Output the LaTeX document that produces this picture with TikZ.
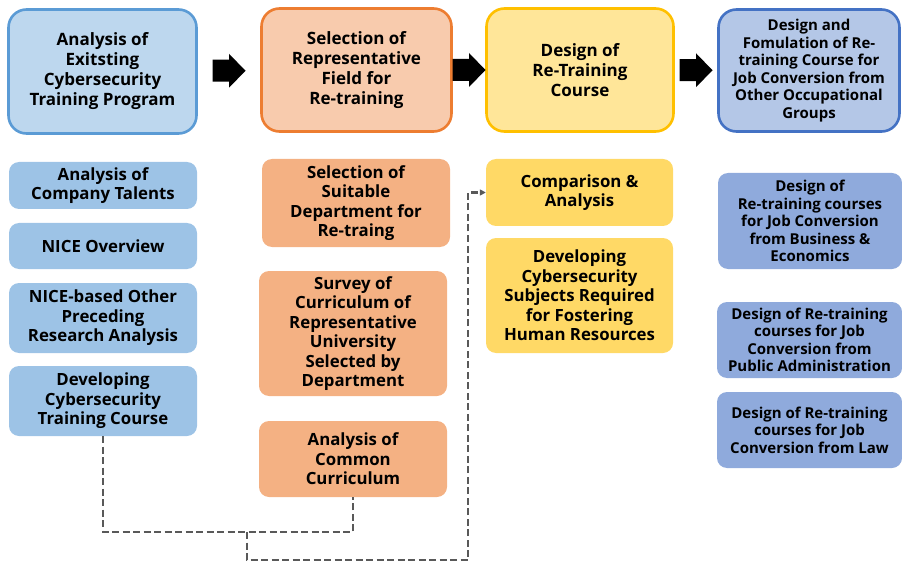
\documentclass[tikz,border=0pt]{standalone}
\usepackage{fontspec}
\setmainfont{Open Sans}
\usetikzlibrary{arrows.meta}

\definecolor{blueFill}{HTML}{BDD7EE}
\definecolor{blueLine}{HTML}{5B9BD5}
\definecolor{orangeFill}{HTML}{F8CBAD}
\definecolor{orangeLine}{HTML}{ED7D31}
\definecolor{yellowFill}{HTML}{FFE699}
\definecolor{yellowLine}{HTML}{FFC000}
\definecolor{navyFill}{HTML}{B4C7E7}
\definecolor{navyLine}{HTML}{4472C4}
\definecolor{blueSub}{HTML}{9DC3E6}
\definecolor{orangeSub}{HTML}{F4B183}
\definecolor{yellowSub}{HTML}{FFD966}
\definecolor{navySub}{HTML}{8FAADC}
\definecolor{dashGray}{HTML}{595959}

\tikzset{
  stagebox/.style={rounded corners=18pt, line width=2.6pt, align=center, inner sep=0pt,
    font=\bfseries\fontsize{17}{20}\selectfont},
  taskbox/.style={rounded corners=10pt, align=center, inner sep=0pt,
    font=\bfseries\fontsize{16.8}{19.5}\selectfont},
  smalltext/.style={font=\bfseries\fontsize{15}{17.5}\selectfont},
  dashline/.style={draw=dashGray, line width=2.8pt, dash pattern=on 7pt off 3.5pt},
  blockarrow/.pic={\fill[black] (-16.5,-11) -- (0,-11) -- (0,-17) -- (16.5,0) -- (0,17) -- (0,11) -- (-16.5,11) -- cycle;}
}

\begin{document}
\begin{tikzpicture}[x=1pt,y=-1pt]
\useasboundingbox (0,0) rectangle (902,564);

% stage headers
\node[stagebox, fill=blueFill, draw=blueLine, minimum width=188pt, minimum height=124pt]
  (s1) at (102.5,71.5) {Analysis of\\Exitsting\\Cybersecurity\\Training Program};
\node[stagebox, fill=orangeFill, draw=orangeLine, minimum width=190pt, minimum height=123pt]
  (s2) at (356.5,70) {Selection of\\Representative\\Field for\\Re-training};
\node[stagebox, fill=yellowFill, draw=yellowLine, minimum width=187pt, minimum height=123pt]
  (s3) at (580,70) {Design of\\Re-Training\\Course};
\node[stagebox, smalltext, fill=navyFill, draw=navyLine, minimum width=181pt, minimum height=122pt]
  (s4) at (809,70.5) {Design and\\Fomulation of Re-\\training Course for\\Job Conversion from\\Other Occupational\\Groups};

% arrows between stages
\path (s1.east) -- (s2.west) coordinate[pos=0.5] (m1);
\path (s2.east) -- (s3.west) coordinate[pos=0.5] (m2);
\path (s3.east) -- (s4.west) coordinate[pos=0.5] (m3);
\pic at (m1) {blockarrow};
\pic at (m2) {blockarrow};
\pic at (m3) {blockarrow};

% column 1 tasks
\node[taskbox, fill=blueSub, minimum width=188pt, minimum height=47pt]
  (a) at (103,185.5) {Analysis of\\Company Talents};
\node[taskbox, fill=blueSub, minimum width=188pt, minimum height=46pt]
  (b) at (103,246) {NICE Overview};
\node[taskbox, fill=blueSub, minimum width=188pt, minimum height=70pt]
  (c) at (103,318) {NICE-based Other\\Preceding\\Research Analysis};
\node[taskbox, fill=blueSub, minimum width=188pt, minimum height=70pt]
  (d) at (103,401) {Developing\\Cybersecurity\\Training Course};

% column 2 tasks
\node[taskbox, fill=orangeSub, minimum width=188pt, minimum height=88pt]
  (e) at (356,203) {Selection of\\Suitable\\Department for\\Re-traing};
\node[taskbox, fill=orangeSub, minimum width=188pt, minimum height=125pt]
  (f) at (353,333.5) {Survey of\\Curriculum of\\Representative\\University\\Selected by\\Department};
\node[taskbox, fill=orangeSub, minimum width=188pt, minimum height=76pt]
  (g) at (353,459) {Analysis of\\Common\\Curriculum};

% column 3 tasks
\node[taskbox, fill=yellowSub, minimum width=187pt, minimum height=67pt]
  (h) at (579.5,192.5) {Comparison \&\\Analysis};
\node[taskbox, fill=yellowSub, minimum width=187pt, minimum height=115pt]
  (i) at (579.5,295.5) {Developing\\Cybersecurity\\Subjects Required\\for Fostering\\Human Resources};

% column 4 tasks
\node[taskbox, smalltext, fill=navySub, minimum width=184pt, minimum height=96pt]
  (j) at (810,221) {Design of\\Re-training courses\\for Job Conversion\\from Business \&\\Economics};
\node[taskbox, smalltext, fill=navySub, minimum width=185pt, minimum height=76pt]
  (k) at (809.5,340) {Design of Re-training\\courses for Job\\Conversion from\\Public Administration};
\node[taskbox, smalltext, fill=navySub, minimum width=185pt, minimum height=76pt]
  (l) at (809.5,430) {Design of Re-training\\courses for Job\\Conversion from Law};

% dashed feed into the comparison step
\coordinate (bus) at (247,532);
\coordinate (low) at (247,560);
\coordinate (riser) at (468,560);
\draw[dashline] (d.south) |- (bus) -| (g.south);
\draw[dashline, -{Triangle[length=6pt,width=6pt]}] (bus) -- (low) -- (riser) |- (h.west);
\end{tikzpicture}
\end{document}
